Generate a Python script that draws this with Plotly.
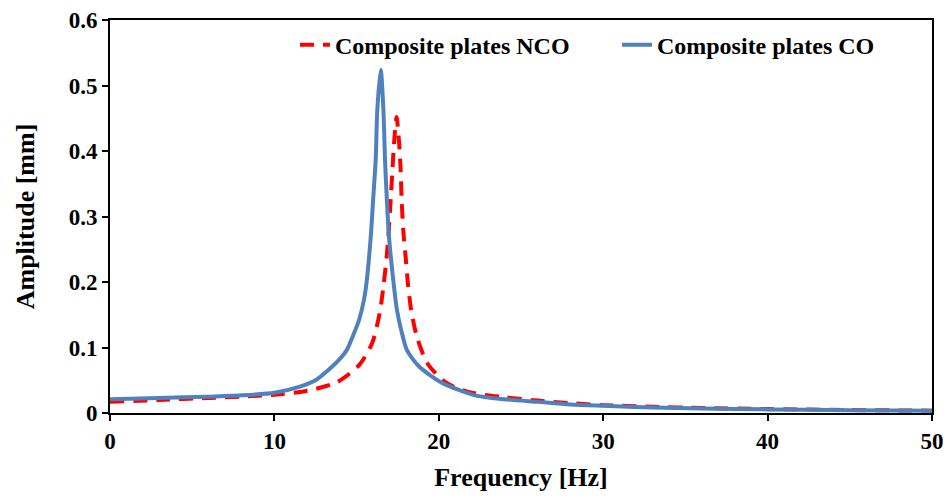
import plotly.graph_objects as go

# Composite plates CO (solid blue)
freq_co = [0, 3, 6, 8, 10, 11.5, 12.5, 13.3, 14.0, 14.4, 14.85, 15.15, 15.45, 15.6, 15.86, 16.02, 16.16, 16.26,
           16.47, 16.63, 16.73, 16.83, 16.97, 17.27, 17.45, 17.7, 18.06, 18.8, 20.2, 22.2, 24, 26, 28,
           30, 33, 36, 40, 45, 50]
amp_co = [0.021, 0.023, 0.025, 0.027, 0.031, 0.040, 0.050, 0.066, 0.083, 0.096, 0.122, 0.142, 0.173, 0.198,
          0.269, 0.331, 0.386, 0.463, 0.524, 0.463, 0.386, 0.331, 0.269, 0.194, 0.158, 0.128, 0.096, 0.071,
          0.046, 0.027, 0.021, 0.017, 0.013, 0.011, 0.0085, 0.007, 0.0055, 0.0042, 0.0033]

# Composite plates NCO (dashed red)
freq_nco = [0, 3, 6, 8, 10, 12, 13.8, 15.15, 15.95, 16.4, 16.63, 16.83, 16.97, 17.07, 17.17, 17.27, 17.43,
            17.58, 17.68, 17.74, 17.84, 17.98, 18.12, 18.32, 18.67, 19.3, 20.4, 21.8, 24, 26, 28, 30, 33,
            36, 40, 45, 50]
amp_nco = [0.017, 0.020, 0.023, 0.025, 0.028, 0.034, 0.047, 0.073, 0.107, 0.152, 0.193, 0.239, 0.284, 0.325,
           0.366, 0.409, 0.452, 0.414, 0.371, 0.325, 0.279, 0.239, 0.198, 0.157, 0.116, 0.076, 0.047, 0.032,
           0.024, 0.019, 0.015, 0.012, 0.0095, 0.0078, 0.006, 0.0046, 0.0036]

x_ticks = [0, 10, 20, 30, 40, 50]
y_ticks = [0, 0.1, 0.2, 0.3, 0.4, 0.5, 0.6]

FONT = "Liberation Serif"

fig = go.Figure()
fig.add_trace(go.Scatter(x=freq_nco, y=amp_nco, mode="lines", name="Composite plates NCO",
                         line=dict(color="#ff0000", width=4, dash="14px,9px", shape="spline", smoothing=0.7)))
fig.add_trace(go.Scatter(x=freq_co, y=amp_co, mode="lines", name="Composite plates CO",
                         line=dict(color="#4f81bd", width=4, shape="spline", smoothing=0.7)))

axis_common = dict(showline=True, linecolor="black", linewidth=2, mirror=True, showgrid=False,
                   zeroline=False, ticks="outside", ticklen=6, tickwidth=2, tickcolor="black",
                   automargin=False,
                   tickfont=dict(family=FONT, size=23, color="black", weight="bold"))

fig.update_xaxes(range=[0, 50], tickvals=x_ticks, ticktext=[str(v) for v in x_ticks],
                 title=dict(text="Frequency [Hz]", font=dict(family=FONT, size=26, color="black", weight="bold"),
                            standoff=15),
                 **axis_common)
fig.update_yaxes(range=[0, 0.6], tickvals=y_ticks, ticktext=["0", "0.1", "0.2", "0.3", "0.4", "0.5", "0.6"],
                 title=dict(text="Amplitude [mm]", font=dict(family=FONT, size=26, color="black", weight="bold"),
                            standoff=27),
                 **axis_common)

# the page body adds an 8px offset, so the figure is sized to fit the 951x498 window
fig.update_layout(
    width=943, height=490,
    margin=dict(l=102, r=14, t=12, b=85),
    paper_bgcolor="white", plot_bgcolor="white",
    font=dict(family=FONT, color="black"),
    legend=dict(orientation="h", x=0.225, y=0.936, xanchor="left", yanchor="middle",
                font=dict(family=FONT, size=24, color="black", weight="bold"),
                bgcolor="rgba(0,0,0,0)", itemwidth=30, entrywidth=277, entrywidthmode="pixels"),
)

fig.write_html("out.html")
